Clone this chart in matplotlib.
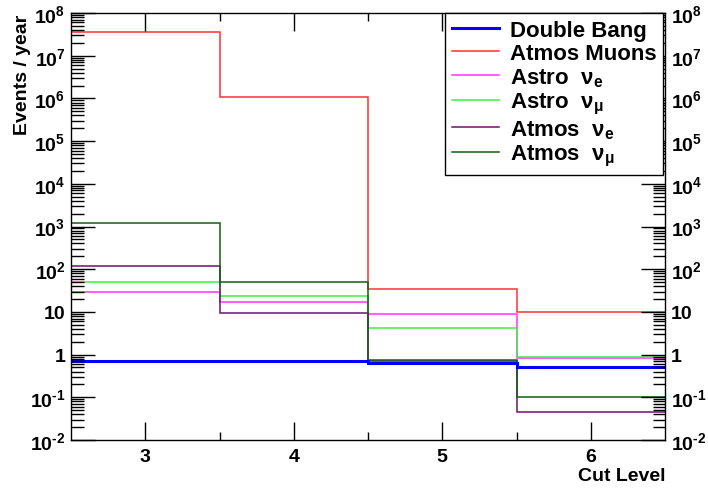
import math
import matplotlib.pyplot as plt
from matplotlib.ticker import FixedLocator, FuncFormatter, NullFormatter

plt.rcParams['font.family'] = ['Liberation Sans', 'DejaVu Sans']
plt.rcParams['font.weight'] = 'bold'
plt.rcParams['mathtext.fontset'] = 'custom'
plt.rcParams['mathtext.rm'] = 'Liberation Sans'
plt.rcParams['mathtext.it'] = 'Liberation Sans'
plt.rcParams['mathtext.bf'] = 'Liberation Sans:bold'

# bin edges of the cut levels
edges = [2.5, 3.5, 4.5, 5.5, 6.5]
cut_levels = [3, 4, 5, 6]

double_bang = [0.72, 0.70, 0.62, 0.52]
atmos_muons = [3.5e7, 1.05e6, 35, 10]
astro_nue = [30, 17, 8.8, 0.85]
astro_numu = [50, 23, 4.3, 0.9]
atmos_nue = [120, 9.5, 0.72, 0.045]
atmos_numu = [1200, 50, 0.76, 0.1]

labels = ['Double Bang', 'Atmos Muons', r'Astro  $\mathrm{\nu}_{\mathbf{e}}$', r'Astro  $\mathrm{\nu_{\mu}}$',
          r'Atmos  $\mathrm{\nu}_{\mathbf{e}}$', r'Atmos  $\mathrm{\nu_{\mu}}$']

fig = plt.figure(figsize=(7.08, 4.89), dpi=100)
ax = fig.add_axes([71/708, 48/489, 594/708, 427/489])

ax.stairs(atmos_muons, edges, color='#ff3030', lw=1.1, label=labels[1], baseline=None)
ax.stairs(astro_nue, edges, color='#ff30ff', lw=1.1, label=labels[2], baseline=None)
ax.stairs(astro_numu, edges, color='#40f040', lw=1.1, label=labels[3], baseline=None)
ax.stairs(atmos_nue, edges, color='#701070', lw=1.1, label=labels[4], baseline=None)
ax.stairs(atmos_numu, edges, color='#106010', lw=1.1, label=labels[5], baseline=None)
ax.stairs(double_bang, edges, color='#0000ff', lw=2.2, label=labels[0], baseline=None)

ax.set_yscale('log')
ax.set_xlim(2.5, 6.5)
ax.set_ylim(1e-2, 1e8)

decades = list(range(-2, 9))
ax.yaxis.set_major_locator(FixedLocator([10.0 ** e for e in decades]))
ax.yaxis.set_minor_locator(FixedLocator([m * 10.0 ** e for e in decades[:-1] for m in range(2, 10)]))


def yfmt(v, pos):
    if abs(v - 1) < 1e-9:
        return '1'
    if abs(v - 10) < 1e-9:
        return '10'
    e = round(math.log10(v))
    sup = ('\u2010%d' % -e) if e < 0 else '%d' % e
    return r'$\mathbf{10^{%s}}$' % sup


ax.yaxis.set_major_formatter(FuncFormatter(yfmt))
ax.yaxis.set_minor_formatter(NullFormatter())
ax.xaxis.set_major_locator(FixedLocator(cut_levels))
ax.xaxis.set_minor_locator(FixedLocator([3.5, 4.5, 5.5]))

ax.tick_params(axis='both', which='both', direction='in', top=True, right=True,
               labelright=True, labelsize=14, width=1)
ax.tick_params(axis='y', which='major', length=17, pad=4)
ax.tick_params(axis='y', which='minor', length=9)
ax.tick_params(axis='x', which='major', length=13, pad=6)
ax.tick_params(axis='x', which='minor', length=6)
for s in ax.spines.values():
    s.set_linewidth(1)

ax.set_ylabel('Events / year', fontsize=14, fontweight='bold', loc='top')
ax.yaxis.set_label_coords(-0.068, 0.998)
ax.set_xlabel('Cut Level', fontsize=14, fontweight='bold', loc='right')
ax.xaxis.set_label_coords(1.0, -0.063)

h, l = ax.get_legend_handles_labels()
order = [5, 0, 1, 2, 3, 4]
leg = ax.legend([h[i] for i in order], [l[i] for i in order], loc='upper right',
                bbox_to_anchor=((663 - 71) / 594, 1.0), fancybox=False, framealpha=1,
                edgecolor='black', handlelength=2.1, handletextpad=0.5, borderaxespad=0,
                labelspacing=0.1, borderpad=0.3, prop={'weight': 'bold', 'size': 16})
leg.get_frame().set_linewidth(1)

fig.savefig('out.png', dpi=100)
